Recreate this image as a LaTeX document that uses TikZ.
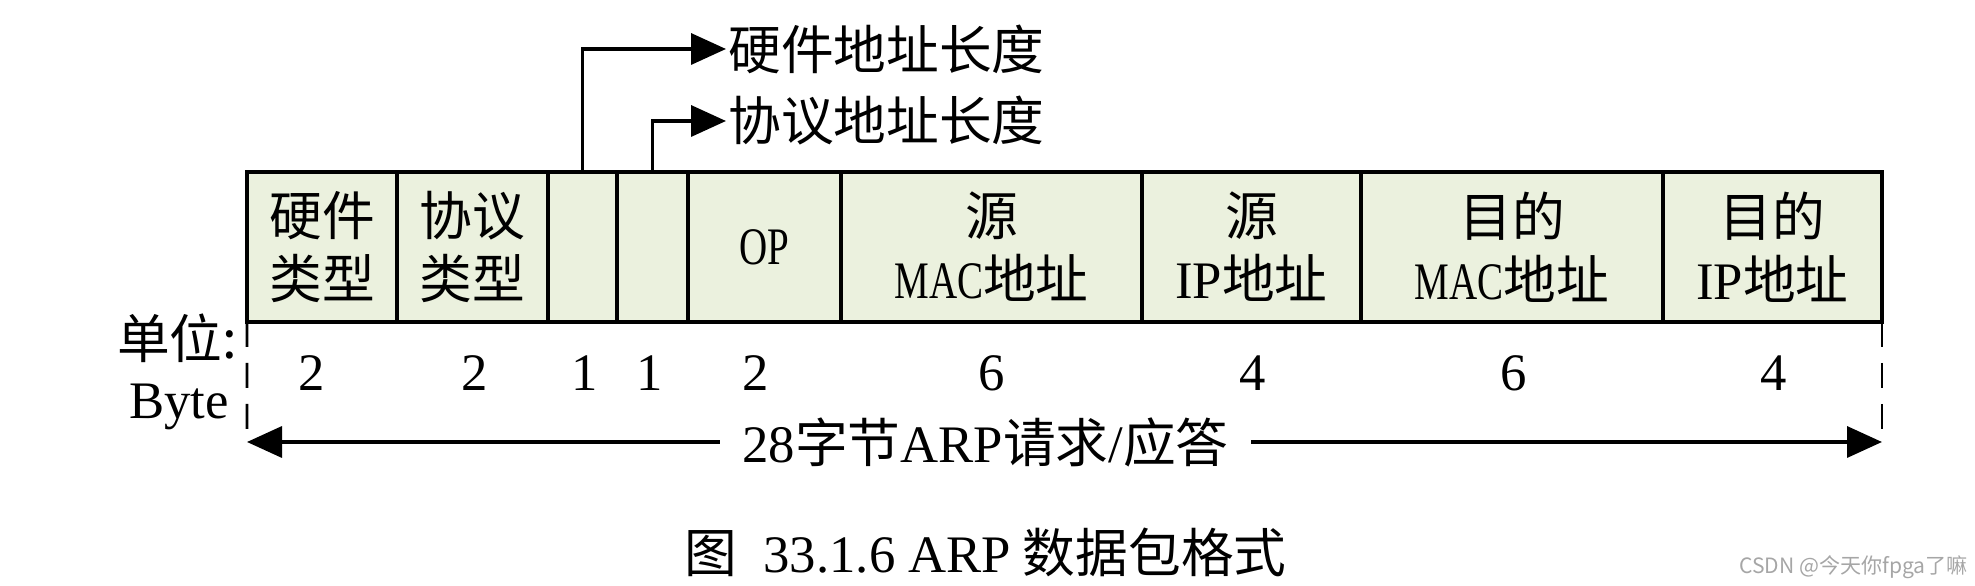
\documentclass[tikz,border=0pt]{standalone}
\usepackage{fontspec}
\setmainfont{Noto Sans CJK SC}
\newfontfamily\lat{Liberation Serif}
\newfontfamily\latn[FakeStretch=0.74]{Liberation Serif}
\usetikzlibrary{arrows.meta}
\pgfdeclarelayer{bg}
\pgfsetlayers{bg,main}
\definecolor{cellgreen}{RGB}{235,241,222}

\begin{document}
\begin{tikzpicture}[
        cell/.style={draw, line width=1.8pt, fill=cellgreen, minimum height=3cm,
                inner sep=0pt, outer sep=0pt, align=center, font=\fontsize{30}{36}\selectfont},
        num/.style={font=\lat\fontsize{30}{36}\selectfont},
        lbl/.style={font=\fontsize{30}{36}\selectfont},
        arr/.style={line width=2pt, -{Triangle[length=0.7cm,width=0.62cm]}},
        bound/.style={line width=1.5pt, dash pattern=on 0.5cm off 0.32cm}]
        \useasboundingbox (0,0) rectangle (39.5cm,11.72cm);
        % fields of the packet
        \node (c0) [cell, minimum width=3.00cm] at (6.440000cm, 6.780000cm) {硬件\\类型};
        \node (c1) [cell, minimum width=3.02cm] at (9.450000cm, 6.780000cm) {协议\\类型};
        \node (c2) [cell, minimum width=1.38cm] at (11.650000cm, 6.780000cm) {};
        \node (c3) [cell, minimum width=1.42cm] at (13.050000cm, 6.780000cm) {};
        \node (c4) [cell, minimum width=3.06cm] at (15.290000cm, 6.780000cm) {{\latn OP}};
        \node (c5) [cell, minimum width=6.02cm] at (19.830000cm, 6.780000cm) {源\\{\latn MAC}地址};
        \node (c6) [cell, minimum width=4.38cm] at (25.030000cm, 6.780000cm) {源\\{\lat IP}地址};
        \node (c7) [cell, minimum width=6.04cm] at (30.240000cm, 6.780000cm) {目的\\{\latn MAC}地址};
        \node (c8) [cell, minimum width=4.38cm] at (35.450000cm, 6.780000cm) {目的\\{\lat IP}地址};
        % byte counts
        \node (n0) [num] at (6.240000cm, 4.260000cm) {2};
        \node (n1) [num] at (9.500000cm, 4.260000cm) {2};
        \node (n2) [num] at (11.700000cm, 4.260000cm) {1};
        \node (n3) [num] at (13.000000cm, 4.260000cm) {1};
        \node (n4) [num] at (15.120000cm, 4.260000cm) {2};
        \node (n5) [num] at (19.840000cm, 4.260000cm) {6};
        \node (n6) [num] at (25.060000cm, 4.260000cm) {4};
        \node (n7) [num] at (30.280000cm, 4.260000cm) {6};
        \node (n8) [num] at (35.480000cm, 4.260000cm) {4};
        \node (u0) [lbl, anchor=east, inner sep=0pt] at (4.750000cm, 4.960000cm) {单位:};
        \node (u1) [num, anchor=east, inner sep=0pt] at (4.580000cm, 3.580000cm) {Byte};
        % labels above and below
        \node (t0) [lbl, anchor=west, inner sep=0.04cm] at (14.520000cm, 10.740000cm) {硬件地址长度};
        \node (t1) [lbl, anchor=west, inner sep=0.04cm] at (14.520000cm, 9.300000cm) {协议地址长度};
        \node (tot) [lbl, inner xsep=0.45cm] at (19.710000cm, 2.880000cm) {{\lat 28}字节{\lat ARP}请求{\lat /}应答};
        \coordinate (l0) at (4.940000cm, 2.880000cm);
        \coordinate (r0) at (37.640000cm, 2.880000cm);
        \node (cap) [font=\fontsize{30}{36}\selectfont] at (19.710000cm, 0.680000cm) {图\hspace{0.5em}{\lat 33.1.6 ARP} 数据包格式};
        \node (wm) [font=\fontsize{12}{14}\selectfont, text=gray!70] at (37.070000cm, 0.380000cm) {CSDN @今天你fpga了嘛};
        \begin{pgfonlayer}{bg}
                \draw[arr] (c2.north) |- (t0.west);
                \draw[arr] (c3.north) |- (t1.west);
                \draw[bound] (c0.south west) -- (l0);
                \draw[bound] (c8.south east) -- (r0);
                \draw[arr] (tot.west) -- (l0);
                \draw[arr] (tot.east) -- (r0);
        \end{pgfonlayer}
\end{tikzpicture}
\end{document}
